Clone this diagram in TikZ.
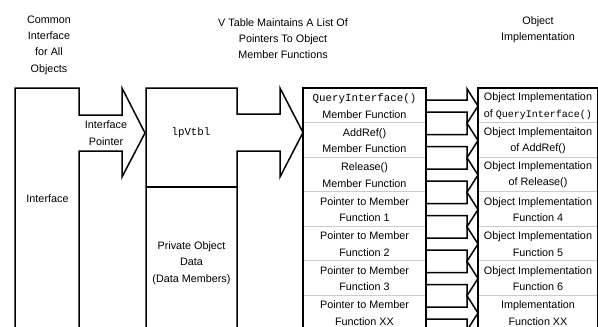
\documentclass[tikz,border=0pt]{standalone}
\usepackage{fontspec}
\setmainfont{Liberation Sans}
\setmonofont{Liberation Mono}
\usetikzlibrary{positioning,calc}

\begin{document}
\begin{tikzpicture}[x=1pt, y=-1pt, line width=1.5pt,
    font=\fontsize{10.8}{16.3}\selectfont, text=black,
    vtcell/.style={minimum width=121.5pt, minimum height=34.5pt, inner sep=0pt, align=center, anchor=north west},
    implcell/.style={vtcell, minimum width=118.5pt},
    rowsep/.style={line width=0.6pt, draw=black!20}]
    \useasboundingbox (0,0) rectangle (598,327);

    % Headings
    \node[align=center] (hcommon) at (49,45) {Common\\Interface\\for All\\Objects};
    \node[align=center] (hvtable) at (283,38.5) {V Table Maintains A List Of\\Pointers To Object\\Member Functions};
    \node[align=center] (himpl) at (538,30) {Object\\Implementation};

    % Interface and pointer arrow
    \draw (15,327) -- (15,88) -- (79,88) -- (79,115) -- (122,115) -- (122,88) -- (145,133)
        -- (122,177) -- (122,151) -- (79,151) -- (79,327);
    \node (iface) at (47.5,199) {Interface};
    \node[align=center] (ipointer) at (106,133) {Interface\\Pointer};

    % Object with lpVtbl and data
    \draw (146,327) -- (146,88) -- (237,88) -- (237,114) -- (280,114) -- (280,88) -- (303,132.5)
        -- (280,177) -- (280,151) -- (237,151) -- (237,327);
    \draw (146,187) -- (237,187);
    \node (lpvtbl) at (191,133) {\ttfamily lpVtbl};
    \node[align=center] (private) at (191.5,263) {Private Object\\Data\\(Data Members)};

    % V table rows and implementations
    \foreach \i/\vt/\im in {
        0/{{\ttfamily QueryInterface()}\\Member Function}/{Object Implementation\\of {\fontsize{10}{16}\ttfamily QueryInterface()}},
        1/{AddRef()\\Member Function}/{Object Implementaiton\\of AddRef()},
        2/{Release()\\Member Function}/{Object Implementation\\of Release()},
        3/{Pointer to Member\\Function 1}/{Object Implementation\\Function 4},
        4/{Pointer to Member\\Function 2}/{Object Implementation\\Function 5},
        5/{Pointer to Member\\Function 3}/{Object Implementation\\Function 6},
        6/{Pointer to Member\\Function XX}/{Implementation\\Function XX}} {
        \node[vtcell] (vt\i) at (303,{88+34.5*\i}) {\vt};
        \node[implcell] (imp\i) at (478,{88+34.5*\i}) {\im};
    }
    \foreach \i in {1,...,6} {
        \draw[rowsep] (vt\i.north west) -- (vt\i.north east);
        \draw[rowsep] (imp\i.north west) -- (imp\i.north east);
    }
    \draw (vt6.south west) -- (vt0.north west) -- (vt0.north east) -- (vt6.south east);
    \draw (imp6.south west) -- (imp0.north west) -- (imp0.north east) -- (imp6.south east);

    % Arrows from each entry to its implementation
    \foreach \i in {0,...,6} {
        \draw ($(vt\i.east)+(0,-6)$) -- ($(imp\i.west)+(-11,-6)$) -- ($(imp\i.west)+(-11,-17.25)$)
            -- (imp\i.west) -- ($(imp\i.west)+(-11,17.25)$) -- ($(imp\i.west)+(-11,6)$) -- ($(vt\i.east)+(0,6)$);
    }
\end{tikzpicture}
\end{document}
